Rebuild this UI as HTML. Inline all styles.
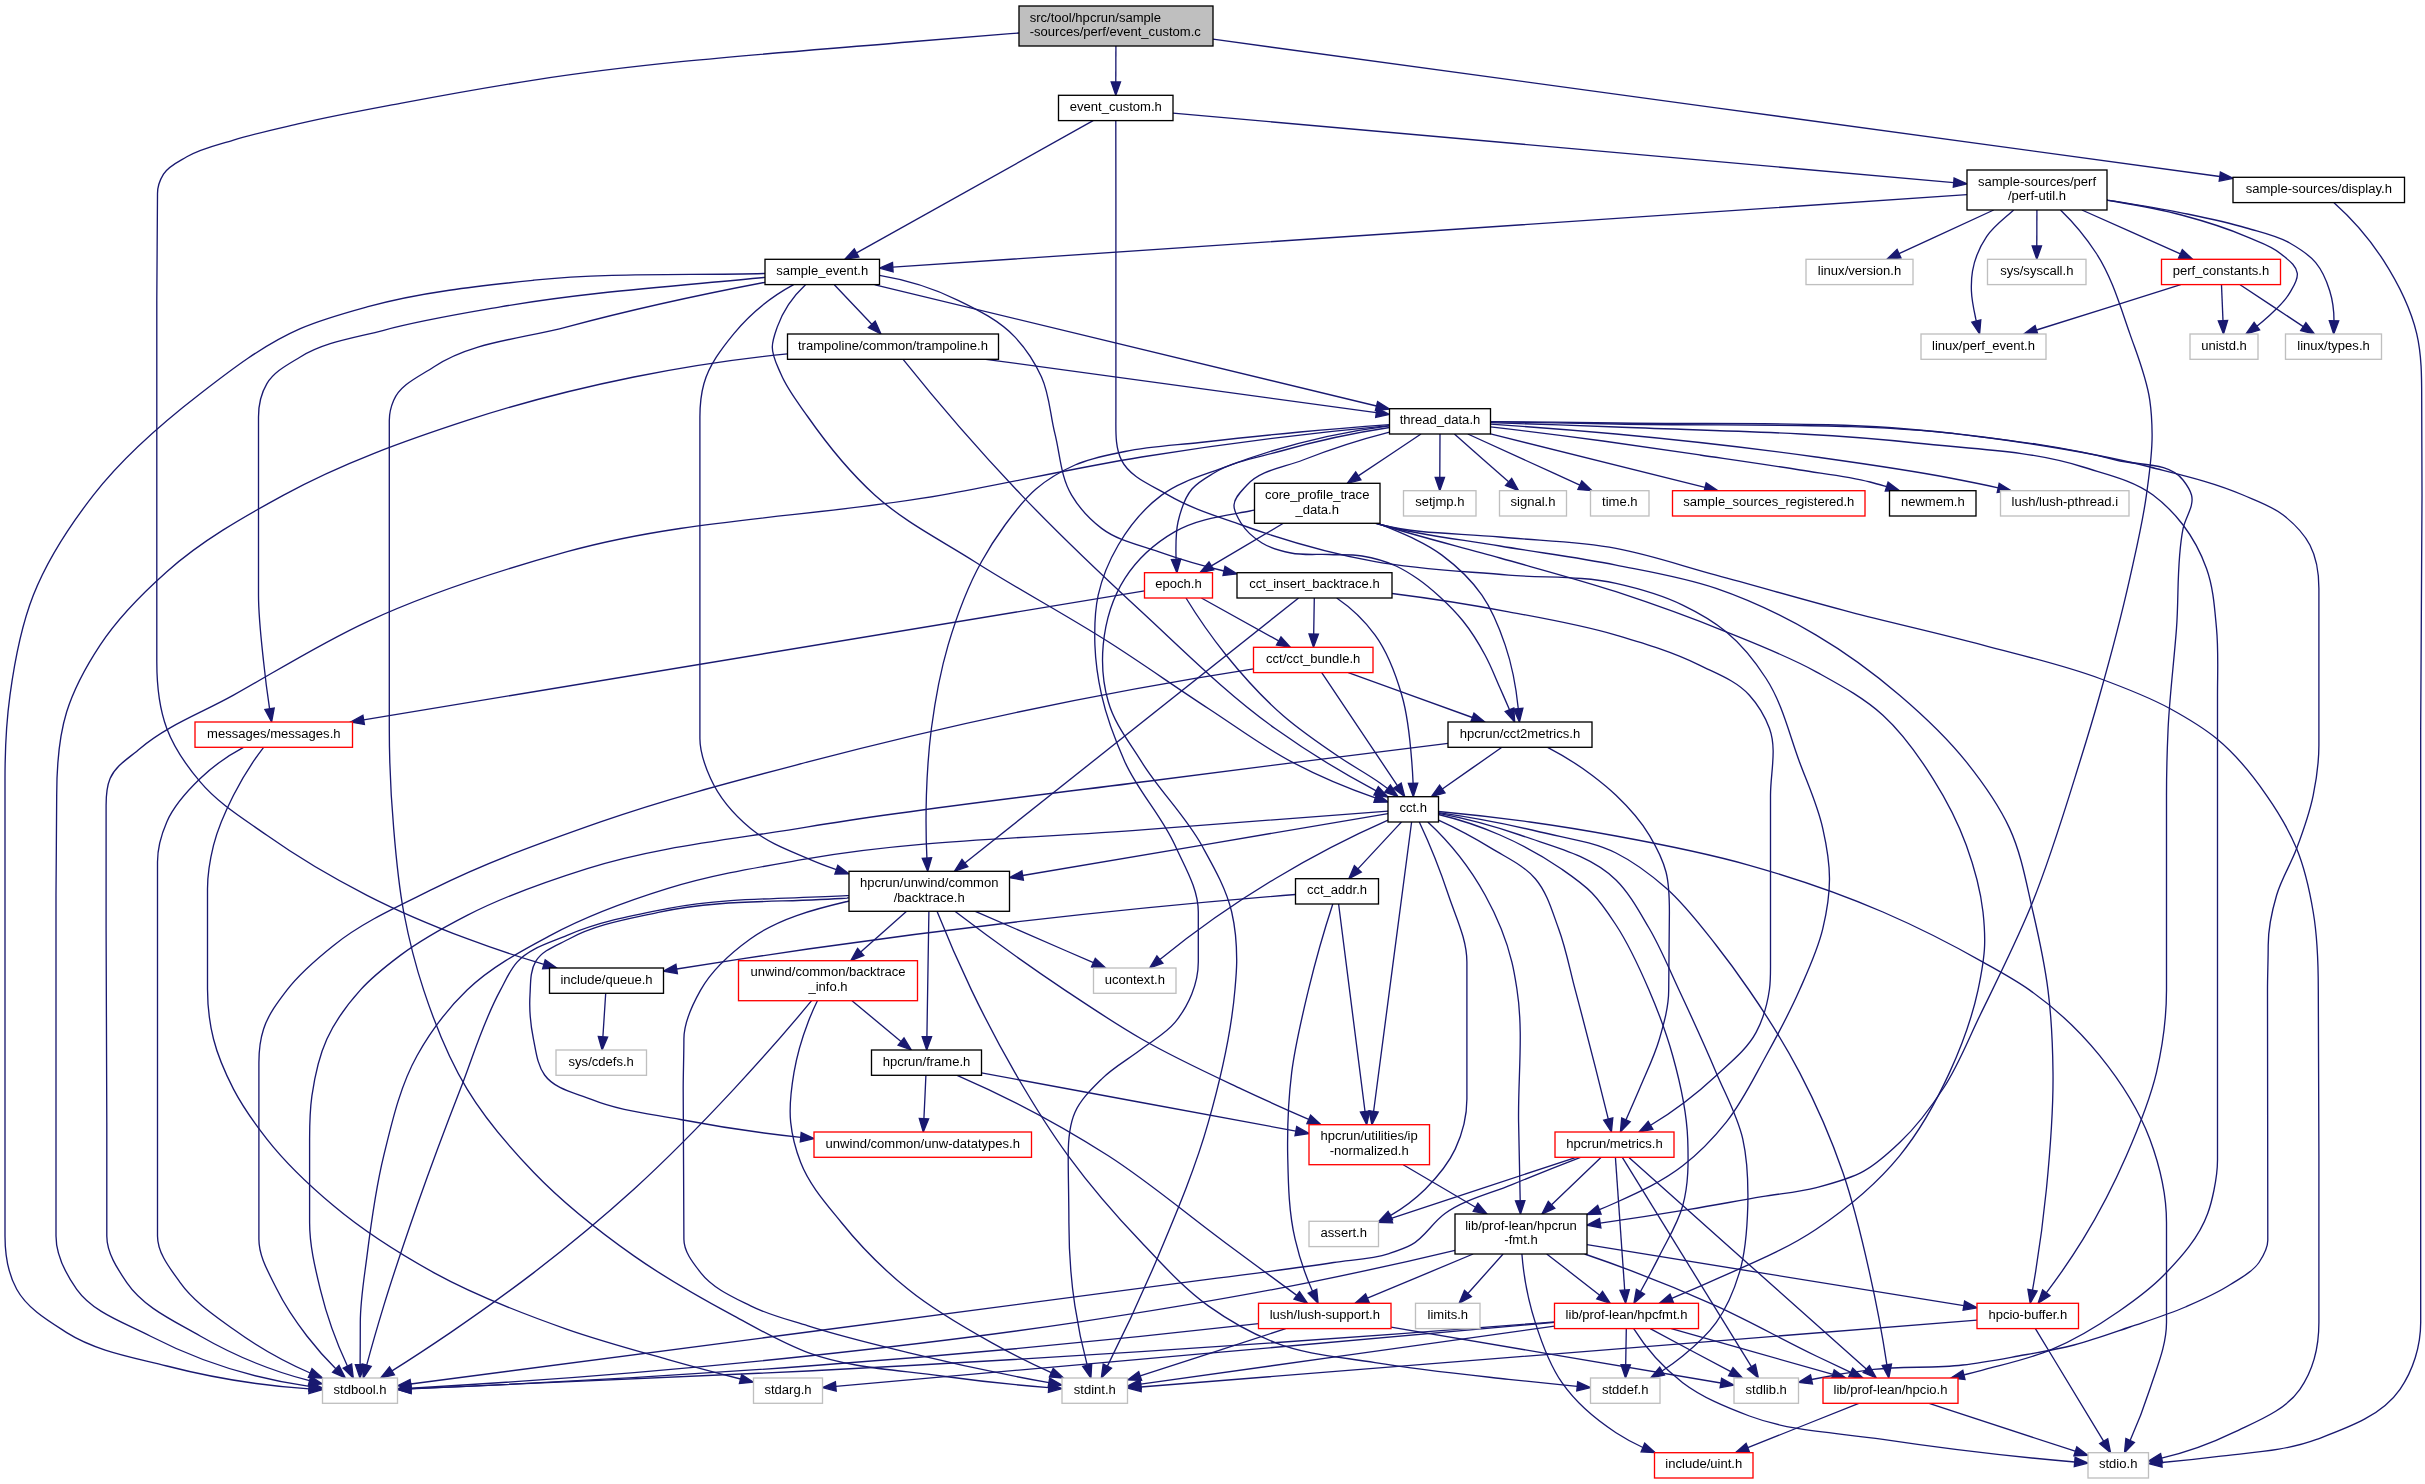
<!DOCTYPE html>
<html><head><meta charset="utf-8"><title>event_custom.c include dependency graph</title>
<style>html,body{margin:0;padding:0;background:#ffffff}svg{display:block}</style></head>
<body>
<svg width="2425" height="1484" viewBox="0 0 2425 1484">
<rect width="2425" height="1484" fill="#ffffff"/>
<g fill="none" stroke="#191970" stroke-width="1.33">
<path d="M1019,33C982,35.9 945,38.9 908.1,42C783.1,52.8 657.7,60.8 533.8,80.1C489.2,87 444.7,95 400.3,103.4C366.9,109.7 333.4,115.8 300.3,123.4C277.9,128.6 255.4,133.3 233.5,140.1C217.7,145 201.1,148.4 186.8,156.8C178.5,161.7 168.6,165.9 163.5,174.1C159.9,179.9 157.5,186.7 157.5,193.5C157.5,229.1 156.8,264.7 156.8,300.3C156.8,387.4 156.8,474.6 156.8,561.7C156.8,595.1 156.8,628.4 156.8,661.8C156.8,684.3 158.9,707.5 166.8,728.5C174.2,748.2 186.6,765.9 200.2,781.9C218.5,803.7 243.7,818.8 266.9,835.3C298.6,857.8 332.3,877.6 367,895.3C399.3,911.9 433,925.9 467.1,938.7C492.3,948.2 518,956.7 543.9,964.3"/>
<path d="M1213,39.2C1548.6,85 1884.2,130.7 2219.8,176.5"/>
<path d="M1115.9,46C1115.9,58 1115.9,70 1115.8,82"/>
<path d="M1093.1,120.7C1014.2,164.7 935.4,208.8 856.6,252.8"/>
<path d="M1173,113.1C1433.2,136.3 1693.5,159.4 1953.7,182.6"/>
<path d="M1115.8,120.7C1115.8,147.2 1115.9,173.7 1115.9,200.2C1115.9,272.4 1115.9,344.7 1115.9,417C1115.9,431.6 1115,447.4 1121.6,460.4C1130.4,477.7 1151.6,485.2 1168.3,495.1C1191.1,508.5 1216.8,516.1 1241.7,525C1285.1,540.6 1329.8,553.3 1375.1,561.7C1419.1,569.8 1464.1,571.2 1508.6,575.1C1544.4,578.2 1581,575.5 1616,583.4C1638.8,588.5 1661.7,594.9 1682.7,605.1C1698,612.5 1713,620.9 1726.1,631.8C1741.9,644.9 1755,661.3 1766.1,678.5C1782.4,703.6 1789.1,733.8 1799.5,761.9C1807.7,784 1817.8,805.6 1822.8,828.6C1826.5,845 1829.5,861.8 1829.5,878.7C1829.5,895.5 1826.7,912.3 1822.8,928.7C1817.8,950 1808.3,970 1799.5,990.1C1789.6,1012.6 1778,1034.2 1766.1,1055.7C1753.6,1078.4 1742.3,1102.2 1726.1,1122.4C1713.3,1138.4 1698.9,1153.3 1682.7,1165.8C1662.7,1181.4 1639.1,1192.1 1616,1202.5C1610.5,1205 1605,1207.4 1599.4,1209.6"/>
<path d="M2334,202.7C2352.9,219.5 2369.7,239 2383.3,260.2C2397.8,282.8 2410.4,307.5 2416.7,333.6C2421.8,355.3 2421.7,378 2421.7,400.3C2421.7,431.9 2422,463.5 2422,495.1C2422,572.9 2420.7,650.7 2420.7,728.5C2420.7,871 2420.7,1013.4 2420.7,1155.8C2420.7,1211.4 2420.7,1267 2420.7,1322.6C2420.7,1345.9 2413.2,1370.2 2400,1389.3C2381.6,1416 2346.9,1428 2316.6,1439.4C2284.9,1451.3 2250.1,1452.4 2216.5,1456.7C2198.3,1459.1 2180.1,1461 2161.8,1462.5"/>
<path d="M1967,194.7C1608.9,218.9 1250.9,243.1 892.8,267.2"/>
<path d="M1993.7,210C1962.1,224.6 1930.6,239.2 1899,253.7"/>
<path d="M2036.9,210C2036.9,222 2036.9,234 2036.8,246"/>
<path d="M2081.9,210C2114.7,224.6 2147.6,239.3 2180.4,253.9"/>
<path d="M2013.7,210C2013.3,210.3 2013,210.7 2012.6,211C2003.6,219.2 1993.4,226.5 1986.6,236.6C1979.6,246.9 1974.6,258.9 1972.5,271.2C1971.4,277.6 1971.2,284.2 1971.4,290.7C1971.7,300.2 1973.8,309.6 1975.8,318.9C1976,319.6 1976.1,320.4 1976.3,321.1"/>
<path d="M2060.5,210C2074.1,223.1 2086.2,237.8 2096.4,253.5C2112.1,277.8 2120.2,306.3 2129.8,333.6C2137.4,355.5 2146.5,377.3 2149.8,400.3C2151.4,411.4 2152,422.5 2152.1,433.7C2152.4,454.2 2149.2,474.7 2146.4,495.1C2142.6,523.1 2135.9,550.8 2129.8,578.4C2121,617.6 2110.7,656.5 2099.7,695.2C2093.6,716.9 2087.1,738.5 2080.4,760C2065.2,808.9 2050.6,858.2 2031.2,905.6C2016,942.7 1997.9,978.6 1980.3,1014.7C1968.4,1039.1 1958.7,1064.8 1943.9,1087.5C1931.2,1107 1917.1,1126 1900.2,1142.1C1889,1152.8 1877.4,1163.6 1863.8,1171.2C1849.2,1179.3 1832.7,1183.4 1816.5,1187.6C1798.7,1192.2 1780.2,1193.6 1762,1196.7C1737.7,1200.8 1713.5,1205.4 1689.2,1209.4C1659.6,1214.3 1629.9,1218.9 1600.2,1223.2"/>
<path d="M2107,200.1C2107.3,200.2 2107.7,200.2 2108,200.3C2132.6,204.5 2157.3,208.5 2181.4,215C2203.5,220.9 2225.5,227.5 2246.4,236.6C2258.2,241.8 2271.2,245.5 2281,253.9C2287.4,259.4 2296.4,265 2297.3,273.4C2298,280.3 2293.1,286.8 2289.7,292.9C2284.4,302.2 2275.9,309.4 2268,316.7C2264.4,320 2260.7,323.2 2256.8,326.2"/>
<path d="M2107,199.9C2107.3,200 2107.7,200 2108,200.1C2132.5,204 2157.1,207.8 2181.4,212.8C2203.2,217.3 2225.1,221.6 2246.4,228C2261,232.4 2276.4,235.5 2289.7,243C2299.1,248.4 2308.8,254.2 2315.7,262.6C2322.4,270.7 2326.6,280.7 2329.7,290.7C2332.7,300.3 2334,310.6 2334,320.7"/>
<path d="M2180.7,284.7C2132.6,299.8 2084.6,314.9 2036.5,330"/>
<path d="M2221.5,284.7C2222,296.7 2222.5,308.7 2223,320.7"/>
<path d="M2240.1,284.7C2261.2,298.7 2282.2,312.6 2303.3,326.6"/>
<path d="M765,273.5C764.7,273.5 764.3,273.5 764,273.5C687.3,275.5 610.1,272.3 533.8,280.2C477.8,286.1 421.3,292 367,306.9C344.4,313.1 321.7,319.3 300.3,328.6C263.8,344.5 231.6,369.3 200.2,393.7C161.3,423.7 123.5,456.3 93.4,495.1C69.6,525.8 47.6,558.9 33.4,595.1C20.8,627 14.6,661.2 10,695.2C6.2,722.8 5,750.7 5,778.6C5,817.5 5,856.4 5,895.3C5,971 5,1046.7 5,1122.4C5,1160.3 5,1198.1 5,1235.9C5,1254.1 7.9,1273.3 16.7,1289.3C27.3,1308.6 48.1,1320.8 66.7,1332.6C96.5,1351.4 132.8,1357.2 166.8,1366C213.3,1378 261.2,1385.7 309.2,1388.9"/>
<path d="M765,277.4C764.7,277.4 764.3,277.5 764,277.5C676,286.1 587.5,291.9 500.4,306.9C461.3,313.7 422,320 383.7,330.3C355.5,337.8 325,341.6 300.3,357C288.2,364.5 274.1,371.4 266.9,383.7C261.1,393.5 258.5,405.6 258.5,417C258.5,439.3 258.5,461.5 258.5,483.7C258.5,520.9 258.5,558 258.5,595.1C258.5,617.4 261.2,639.6 263.6,661.8C265.2,677.5 267.2,693.2 269.6,708.8"/>
<path d="M765,282.3C764.7,282.4 764.3,282.4 764,282.5C697.9,295.1 632.1,309.4 567.1,326.9C522.3,339 472.4,341.3 433.7,367C419.2,376.6 400.4,384.3 393.7,400.3C391,406.6 389.3,413.5 389.3,420.4C389.3,441.5 389.3,462.6 389.3,483.7C389.3,532 389.3,580.2 389.3,628.4C389.3,661.8 389.3,695.2 389.3,728.5C389.3,761.9 390.8,795.3 393.7,828.6C396,856.5 398.5,884.5 403.7,912C408.7,938.4 415.2,964.6 423.7,990.1C435,1024.3 448.4,1058.3 467.1,1089.1C485.5,1119.5 509.1,1146.8 533.8,1172.5C563.9,1203.8 598.4,1230.9 633.9,1255.9C665.7,1278.3 699.7,1297.5 733.9,1315.9C758.2,1329 782.1,1343.1 808,1352.6C850.4,1368.2 896.7,1369.8 941.4,1376C977.1,1380.9 1012.8,1384.8 1048.7,1387.6"/>
<path d="M793.6,284.7C770.8,297 750.2,313.9 733.9,333.6C721.6,348.6 709.2,364.9 703.9,383.7C700.9,394.4 699.9,405.8 699.9,417C699.9,439.3 699.9,461.5 699.9,483.7C699.9,532 699.9,580.2 699.9,628.4C699.9,665.1 699.9,701.8 699.9,738.5C699.9,752.3 704.9,766 710.6,778.6C719.4,798.1 734.2,815 750.6,828.6C767.3,842.4 788.2,850.1 808,858.6C817.3,862.7 826.8,866.3 836.4,869.7"/>
<path d="M805.5,284.7C793,296.3 782.9,311.2 777.3,326.9C775,333.4 772.4,340.1 772.3,347C772.2,356.3 777.1,365 780.7,373.6C787.2,389.4 798.2,403 808,417C827.6,445 849.4,472 874.7,495C904.4,521.9 941,540.2 974.8,561.7C1018.6,589.6 1064.5,613.9 1108.3,641.8C1142.1,663.3 1174.7,686.6 1208.3,708.5C1236,726.5 1262.5,746.5 1291.7,761.9C1318.5,776 1346.6,788 1375.3,797.8"/>
<path d="M834.3,284.7C846.8,297.9 859.3,311.1 871.8,324.3"/>
<path d="M879.5,275.4C906.8,279.9 933.6,288.3 958.1,300.3C978.4,310.1 999.4,320.6 1014.8,336.9C1025.9,348.6 1034.9,362.4 1041.5,377C1049.6,394.7 1050.1,414.9 1054.9,433.7C1060.1,454.3 1060.6,476.9 1071.6,495.1C1079.2,507.9 1089.7,519.3 1101.6,528.4C1117.9,540.7 1139,544.9 1158.3,551.7C1179.8,559.3 1201.7,565.8 1224,571"/>
<path d="M874.6,284.7C1041.9,325.1 1209.2,365.5 1376.5,406"/>
<path d="M787.5,353.8C735.9,359 684.6,366.7 633.9,377C577.6,388.4 521.7,402.5 467.1,420.4C404.3,440.9 341.5,463.4 283.6,495.1C242.7,517.4 201.5,540.7 166.8,571.7C142.1,593.7 118.2,617.5 100.1,645.1C86.4,665.9 74.1,688.1 66.7,711.8C58.4,738.6 56.7,767.2 56.7,795.3C56.7,828.6 56,862 56,895.3C56,971 56,1046.7 56,1122.4C56,1160.3 56,1198.1 56,1235.9C56,1255 65.7,1273.7 76.7,1289.3C93.6,1312.9 124.4,1322.6 150.1,1336C199.3,1361.4 253.9,1378.6 309.3,1386.3"/>
<path d="M903.1,359.3C940.6,406.2 980.1,451.6 1021.5,495.1C1060,535.5 1100.6,573.9 1141.6,611.8C1185,651.9 1226.9,694.2 1275.1,728.5C1307.3,751.5 1341.1,772.3 1376.2,790.8"/>
<path d="M985.8,359.3C1116,377.1 1246.1,394.9 1376.3,412.6"/>
<path d="M1389.5,425.6C1306.6,433.3 1223.8,443.8 1141.6,457C1074.6,467.9 1008.3,483.3 941.4,495.1C817.2,517 688.8,518.1 567.1,551.7C499,570.6 431.1,592.1 367,621.8C320.9,643.1 277.8,670.3 233.5,695.2C202.3,712.7 167.3,725.2 140.1,748.5C129.4,757.8 115.5,765.5 110.1,778.6C106.6,786.9 106.1,796.3 106.1,805.3C106.1,846.4 106.1,887.5 106.1,928.7C106.1,993.3 106.8,1057.9 106.8,1122.4C106.8,1160.3 106.8,1198.1 106.8,1235.9C106.8,1252.8 117.3,1268.6 126.8,1282.6C143.8,1307.6 174,1320.8 200.2,1336C234.1,1355.6 271.3,1370.8 309.5,1380.7"/>
<path d="M1389.5,424.6C1359.6,426.8 1329.8,429.2 1300,432C1266.6,435.1 1233.3,438.7 1200,442.5C1175,445.3 1149.7,446.4 1125,451.5C1108.1,455 1090.8,458 1075,465C1061,471.2 1047.6,479.1 1036,489C1023.9,499.2 1014.4,512.3 1005,525C996.4,536.7 988.5,549 981.5,561.7C966.9,587.9 956.6,616.4 948.1,645.1C940.1,672.3 935.1,700.4 931.4,728.5C928.6,750.6 927.1,773 926.4,795.3C925.8,816.2 925.9,837.1 926.9,858"/>
<path d="M1389.5,425.8C1333.3,432.9 1277.7,446.8 1225,467.1C1203.4,475.3 1180.1,481.3 1161.6,495.1C1144,508.3 1129.4,526 1118.3,545C1109.2,560.5 1102.1,577.5 1098.2,595.1C1094.6,611.4 1094.4,628.4 1094.9,645.1C1095.5,661.9 1097.9,678.7 1101.6,695.2C1106.7,718.2 1115.3,740.4 1124.9,761.9C1138.2,791.5 1161.7,815.7 1175,845.3C1184.6,866.8 1198.3,888.5 1198.3,912C1198.3,928.7 1198.3,945.4 1198.3,962.1C1198.3,983.6 1188.7,1005.7 1175,1022.4C1165.9,1033.4 1152.9,1040.3 1141.6,1049.1C1128.4,1059.3 1113.4,1067.3 1101.6,1079.1C1091.5,1089.1 1080.7,1099.4 1074.9,1112.4C1069,1125.8 1068.2,1141.2 1068.2,1155.8C1068.2,1178 1068.9,1200.3 1068.9,1222.5C1068.9,1250.4 1070.7,1278.4 1074.9,1305.9C1077.9,1325.9 1082,1345.7 1087.2,1365.2"/>
<path d="M1389.5,427.5C1352.9,433 1316.6,440.9 1281,451C1258.4,457.4 1234.1,460.9 1214,473C1206.2,477.7 1197.9,482.1 1192,489C1184.2,498.1 1180.7,510.4 1178,522C1175.5,533.1 1175.8,544.6 1176,556C1176,557.1 1176,558.2 1176.1,559.4"/>
<path d="M1389.5,432.1C1360.1,439.6 1331.1,448.9 1303,460C1284,467.5 1260.7,469.8 1247,485C1241.7,490.9 1234.4,497.1 1234,505C1233.7,511.4 1237.7,517.5 1241,523C1246,531.3 1253.8,537.9 1262,543C1270.7,548.4 1281,551 1291,553C1303.4,555.5 1316.3,554 1329,554.5C1340,555 1351.1,554.2 1362,556C1373.7,557.9 1385.3,561.1 1396,566C1403.7,569.6 1411,574.2 1418,579C1425.8,584.4 1433,590.6 1440,597C1448.2,604.5 1456,612.4 1463,621C1471.5,631.5 1478.6,643.1 1485,655C1490.8,665.6 1495.1,677 1500,688C1503.2,695.2 1506.4,702.5 1509.5,709.7"/>
<path d="M1421,434C1400.1,448 1379.2,461.9 1358.3,475.9"/>
<path d="M1440,434C1439.9,448.4 1439.9,462.9 1439.8,477.3"/>
<path d="M1454.4,434C1472.5,449.9 1490.5,465.9 1508.6,481.8"/>
<path d="M1467.8,434C1505.1,451 1542.5,468.1 1579.9,485.1"/>
<path d="M1490.5,433.9C1562,451.8 1633.5,469.6 1705,487.4"/>
<path d="M1490.5,426.9C1528,431.2 1565.5,435.9 1603,441C1635.4,445.4 1667.7,450.2 1700,455C1733.3,459.9 1766.7,464.6 1800,470C1823.4,473.8 1847.1,476.1 1870,482C1875.6,483.4 1881.1,485 1886.7,486.6"/>
<path d="M1490.5,424.2C1532.4,426.9 1574.2,430.2 1616,434C1682.8,440.2 1749.5,447.7 1816,457C1860.8,463.3 1905.6,469.5 1950,478C1966.1,481.1 1982.2,484.3 1998.2,487.8"/>
<path d="M1490.5,421.6C1532.3,421.8 1574.2,422.3 1616,423C1727,424.8 1838.7,420.1 1949,433C2005,439.6 2061.4,445.9 2116,460C2138.6,465.8 2168.7,461.6 2183,480C2186.5,484.5 2190,489.5 2191.5,495C2194.5,506.1 2185.4,517.1 2183.1,528.4C2176.5,561.1 2179,595.1 2176.5,628.4C2174,661.8 2169.7,695.1 2168.1,728.5C2167.1,750.7 2166.5,773 2166.5,795.3C2166.5,860.2 2166.5,925.1 2166.5,990.1C2166.5,1017.7 2162.7,1045.5 2156.5,1072.4C2149.7,1101.2 2138.2,1128.7 2126.4,1155.8C2113.9,1184.5 2099.5,1212.5 2083.1,1239.2C2071.7,1257.7 2059.4,1275.6 2046.3,1292.8"/>
<path d="M1490.5,422.7C1532.3,423.9 1574.2,425.3 1616,427C1716.1,431 1816.5,431.9 1916,443C1971.9,449.2 2029.4,450 2083,467C2107,474.6 2132.8,480 2153,495C2164.4,503.5 2174.5,513.7 2183.1,525C2193.1,538.1 2200.9,553 2206.5,568.4C2213.4,587.5 2214.6,608.2 2216.5,628.4C2218.6,650.6 2217.5,672.9 2217.5,695.2C2217.5,793.5 2217.5,891.8 2217.5,990.1C2217.5,1046.7 2217.5,1103.4 2217.5,1160C2217.5,1170.1 2216,1180.1 2214,1190C2212.4,1198 2210.5,1205.9 2207.7,1213.5C2199,1237.6 2181,1257.8 2163,1276C2149.7,1289.5 2134.2,1300.7 2118.6,1311.5C2097.6,1326.1 2075.4,1339.5 2051.8,1349.4C2030.4,1358.4 2007.5,1363.4 1985,1369.4C1978,1371.3 1970.9,1373.1 1963.9,1374.9"/>
<path d="M1490.5,421.9C1532.3,422.4 1574.2,423.1 1616,424C1738.4,426.7 1861.7,420.8 1983,437C2039.1,444.5 2095.2,453 2150,467C2181.4,475 2213.3,482.1 2243,495C2256.7,500.9 2271.4,505.8 2283.2,515C2293.8,523.3 2303.7,533.2 2309.9,545C2316.7,558.1 2318.9,573.6 2318.9,588.4C2318.9,640.7 2318.9,692.9 2318.9,745.2C2318.9,762 2316.6,778.8 2313.2,795.3C2309.5,813.5 2303.1,831.2 2296.6,848.6C2290.7,864.5 2281.3,879.1 2276.6,895.3C2271.8,911.6 2268.2,928.5 2268.2,945.4C2268.2,960.3 2267.5,975.2 2267.5,990.1C2267.5,1073.5 2267.8,1156.9 2267.8,1240.3C2267.8,1248.3 2263.4,1255.9 2259,1262.5C2252.2,1272.6 2240.2,1278.2 2230,1284.8C2216.1,1293.8 2200.6,1300.4 2185.4,1307C2167.3,1314.8 2148.4,1320.6 2129.8,1327C2111.3,1333.3 2092.9,1340.1 2074,1345C2055.7,1349.7 2037,1352.7 2018.4,1356C1999.9,1359.3 1981.4,1362.8 1962.7,1365C1933.2,1368.5 1903.1,1366 1873.6,1369.4C1852.8,1371.8 1832,1375.2 1811.5,1379.5"/>
<path d="M1254.5,510.2C1253,510.4 1251.5,510.7 1250,511C1224.5,515.8 1197.4,518.7 1175,531.7C1155.2,543.1 1137.2,559.2 1124.9,578.4C1112.3,598.1 1105.4,621.8 1103.2,645.1C1101.5,664 1103,683.6 1108.3,701.8C1114.5,723.9 1129.6,742.4 1141.6,761.9C1159.6,791 1185,815.3 1201.7,845.3C1213.5,866.6 1226.1,888.3 1231.7,912C1235.5,928.3 1236.8,945.3 1236.7,962.1C1236.6,971.1 1235.8,980 1235,989C1231.2,1034.2 1220.7,1078.8 1208.3,1122.4C1195.4,1168.2 1176.7,1212.1 1158.3,1255.9C1142.6,1293.2 1125.6,1330 1107.4,1366.1"/>
<path d="M1283.4,523.3C1259.4,537.5 1235.4,551.7 1211.4,565.9"/>
<path d="M1377.9,523.3C1379.3,523.9 1380.6,524.4 1382,525C1402.6,533.6 1423.9,541.7 1441.9,555.1C1457,566.3 1471.1,579.6 1481.9,595.1C1492.4,610.2 1499.3,627.7 1505.2,645.1C1512.2,665.6 1516.1,687.2 1518.3,708.7"/>
<path d="M1376.7,523.3C1378.5,523.9 1380.2,524.4 1382,525C1421,537.3 1460.7,546.8 1500,558C1538.7,569 1577.7,579.2 1616,591.7C1653.1,603.9 1689.9,617.1 1726.1,631.8C1756.5,644.2 1787.4,655.9 1816.2,671.8C1839.4,684.7 1863.3,697.3 1882.9,715.2C1902.8,733.3 1918.6,755.8 1932.9,778.6C1946.2,799.6 1957.8,821.9 1966.3,845.3C1974.1,866.8 1980.4,889.2 1983,912C1984.2,923.1 1985,934.2 1984.6,945.4C1984.1,960.4 1981.1,975.3 1978,990.1C1971.9,1018.5 1961.7,1046 1949.6,1072.4C1936.1,1101.9 1920.1,1130.7 1899.6,1155.8C1876.2,1184.5 1846.9,1208.5 1816.2,1229.2C1785.2,1250 1750.1,1263.9 1716.1,1279.2C1701.4,1285.9 1686.6,1292.2 1671.8,1298.3"/>
<path d="M1376.1,523.3C1378,523.9 1380,524.5 1382,525C1420.5,535.6 1460.6,539.3 1500,546C1538.6,552.6 1577.6,557.3 1616,565.1C1649.6,571.8 1683.7,577.3 1716.1,588.4C1750.9,600.3 1784.5,616.4 1816.2,635.1C1845.7,652.5 1873.5,672.9 1899.6,695.2C1923.5,715.6 1946.7,737.3 1966.3,761.9C1982.8,782.6 1998.6,804.5 2009.7,828.6C2021.7,854.8 2026.4,883.9 2033,912C2039,937.8 2044.7,963.8 2048,990.1C2051.5,1017.4 2052.7,1044.9 2053,1072.4C2053.5,1111.4 2050.2,1150.4 2046.4,1189.2C2043,1223 2038.4,1256.7 2032.5,1290.2"/>
<path d="M1375.5,523.3C1377.6,523.9 1379.8,524.5 1382,525C1420.4,534.5 1460.7,533.1 1500,537C1538.7,540.9 1577.8,541.3 1616,548.4C1649.9,554.7 1682.8,566.1 1716.1,575.1C1760.6,587.1 1804.9,600.1 1849.5,611.8C1893.9,623.4 1938.7,633.2 1983,645.1C2022.1,655.6 2061.8,664.4 2099.7,678.5C2123.5,687.3 2147.5,696.3 2169.8,708.5C2186,717.4 2202.2,726.8 2216.5,738.5C2236,754.6 2252.2,774.5 2266.5,795.3C2278.2,812 2288.8,829.7 2296.6,848.6C2304.9,868.8 2309.6,890.5 2313.2,912C2317.6,937.7 2318.3,964 2318.3,990.1C2318.3,1045.3 2318.9,1100.6 2318.9,1155.8C2318.9,1211.4 2318.9,1267 2318.9,1322.6C2318.9,1345.7 2313.2,1370.4 2299.9,1389.3C2284.7,1411.1 2257,1421 2233.2,1432.7C2210.5,1443.8 2186.3,1452.4 2161.5,1458.2"/>
<path d="M1144.5,590.9C884.2,633.9 623.9,676.9 363.6,719.8"/>
<path d="M1186,598C1198.1,617.8 1211.5,636.9 1226,655C1243.4,676.6 1262.1,697.3 1283,715.5C1300.8,731 1320.4,744.3 1340,757.5C1353.1,766.4 1367.1,773.8 1380,783C1382.5,784.8 1385,786.6 1387.5,788.5"/>
<path d="M1201.4,598C1227.1,612.3 1252.9,626.6 1278.7,640.9"/>
<path d="M1298.6,598C1187.3,686.3 1076.1,774.7 964.9,863"/>
<path d="M1314.3,598C1314.1,610 1313.9,622 1313.7,634"/>
<path d="M1336.7,598C1351.5,608.1 1364.7,620.8 1375.1,635.1C1388,652.8 1395.7,674.1 1401.8,695.2C1408.2,716.7 1410.1,739.5 1411.8,761.9C1412.4,769 1412.8,776.2 1413.1,783.3"/>
<path d="M1392,593.5C1431,598.4 1469.9,604.5 1508.6,611.8C1544.6,618.5 1580.9,624.7 1616,635.1C1644.3,643.5 1673,651.9 1699.4,665.1C1716.8,673.8 1736.4,680.7 1749.4,695.2C1758.1,704.8 1765,716.3 1769.5,728.5C1777.1,749.4 1770.5,773 1770.5,795.3C1770.5,850.9 1770.5,906.5 1770.5,962.1C1770.5,971 1770.7,980.1 1769.5,989C1767.4,1004 1763.3,1019 1756.1,1032.4C1746.8,1049.7 1730.5,1062.3 1716.1,1075.7C1696.1,1094.4 1674,1111.1 1650.6,1125.3"/>
<path d="M1253.5,668.9C1103.6,692.2 954.7,723.3 808,761.9C738.4,780.2 668.5,798.2 600.5,821.9C544,841.7 487.3,861.9 433.7,888.7C399.4,905.8 363.6,921.4 333.6,945.4C316.8,958.8 300,972.9 286.9,990.1C277.7,1002.1 268.2,1014.6 263.6,1029C260.1,1039.7 258.9,1051.2 258.9,1062.4C258.9,1121.3 258.9,1180.3 258.9,1239.2C258.9,1256.9 269.1,1273.3 276.9,1289.3C285,1305.9 295.6,1321.3 306.9,1336C315.8,1347.5 325.4,1358.5 335.8,1368.8"/>
<path d="M1321.7,672.7C1346.9,710.3 1372.1,747.9 1397.4,785.6"/>
<path d="M1348.3,672.7C1389.7,687.6 1431,702.5 1472.4,717.5"/>
<path d="M243.5,747.3C227.6,755.7 212.9,766.3 200.2,778.6C187.1,791.2 174.1,805.2 166.8,821.9C161.3,834.5 157.5,848.3 157.5,862C157.5,895.3 157.5,928.7 157.5,962.1C157.5,1015.5 157.5,1069 157.5,1122.4C157.5,1160.3 157.5,1198.1 157.5,1235.9C157.5,1253.2 170.1,1268.5 180.2,1282.6C193.9,1301.8 214.4,1315.4 233.5,1329.3C257.2,1346.5 283.1,1361.3 310.2,1373"/>
<path d="M263.6,747.3C252.1,762.3 242,778.4 233.5,795.3C225.4,811.3 217.9,827.9 213.5,845.3C210,859.4 207.5,874.1 207.5,888.7C207.5,913.1 207.5,937.6 207.5,962.1C207.5,971 207.5,980 207.5,989C207.5,1005.8 209.4,1022.7 213.5,1039C217.9,1056.5 225.3,1073.1 233.5,1089.1C242.8,1106.9 254.5,1123.3 266.9,1139.1C286.3,1163.9 309.5,1185.6 333.6,1205.8C364.3,1231.6 398.6,1253.2 433.7,1272.6C476,1295.9 521.5,1313.3 567.1,1329.3C600,1340.8 633.7,1349.9 667.2,1359.3C691.6,1366.2 716,1372.7 740.6,1379"/>
<path d="M1448,743.4C1348.6,755.6 1249.3,768.1 1150,781C1035.9,795.8 921.4,808 808,826.9C734.1,839.3 658.6,846.2 587.2,868.6C546.2,881.5 505.2,895.6 467.1,915.4C444,927.3 421.1,939.8 400.3,955.4C386.2,966 372.1,977 360.3,990.1C347.1,1004.7 335.1,1021.1 326.9,1039C318.8,1056.8 314.7,1076.4 311.9,1095.8C309.9,1110.1 309.6,1124.6 309.6,1139.1C309.6,1166.9 309.6,1194.7 309.6,1222.5C309.6,1245.1 314.9,1267.4 320.3,1289.3C326.7,1315.6 335.9,1341.4 347.4,1366"/>
<path d="M1501.9,747.3C1482,761.2 1462.2,775.1 1442.3,789"/>
<path d="M1547.6,747.3C1563.2,755.4 1578.1,764.8 1592,775.2C1600.3,781.5 1608.5,788 1616,795.3C1628.6,807.3 1640.4,820.4 1649.4,835.3C1656.3,846.8 1662.7,859 1666,872C1669.4,884.9 1669.4,898.6 1669.4,912C1669.4,938 1668.7,964.1 1668.7,990.1C1668.7,1006.7 1664,1023.1 1659.4,1039C1654.4,1056.3 1646.3,1072.5 1639.4,1089.1C1635,1099.4 1630.5,1109.7 1625.9,1119.9"/>
<path d="M1388,811.1C1307,816.9 1226,823.1 1145,829.6C1032.6,838.6 919.1,839.2 808,858.6C760.7,866.9 713,874.4 667.2,888.7C627.2,901.1 587.4,915.6 550.5,935.4C521.2,951.1 491,967 467.1,990.1C447.2,1009.2 430.4,1031.7 417,1055.7C399.9,1086.5 392.1,1121.7 383.7,1155.8C375.6,1188.6 371.2,1222.3 367,1255.9C364.2,1278.1 360.3,1300.3 360.3,1322.6C360.3,1336.6 360.2,1350.7 360.1,1364.7"/>
<path d="M1388,813.6C1266.2,834.2 1144.4,854.9 1022.6,875.5"/>
<path d="M1388,820.1C1349.2,837.2 1311.4,856.8 1275.1,878.7C1234.9,902.8 1196.3,929.9 1159.9,959.5"/>
<path d="M1401.5,822C1386.9,837.6 1372.4,853.3 1357.9,868.9"/>
<path d="M1411.6,822C1398.9,918.5 1386.3,1015 1373.6,1111.5"/>
<path d="M1419.3,822C1430.5,845.8 1440.3,870.4 1448.5,895.3C1455.8,917.2 1466.9,939 1466.9,962.1C1466.9,971 1466.9,980 1466.9,989C1466.9,1025.7 1466.9,1062.4 1466.9,1099.1C1466.9,1116.2 1462.5,1133.6 1455.2,1149.1C1448.1,1164.2 1437,1177.4 1425.2,1189.2C1414.9,1199.3 1403.1,1208.2 1390.3,1215.6"/>
<path d="M1427.8,822C1450.7,843.2 1470.3,868.2 1485.2,895.3C1496.8,916.3 1506.3,938.8 1511.9,962.1C1514.1,970.9 1515.5,980 1516.9,989C1523.8,1033 1517.8,1078 1518.6,1122.4C1519,1148.5 1519.6,1174.6 1520.2,1200.7"/>
<path d="M1438.5,820.1C1456.9,828.5 1474.7,838 1491.9,848.6C1506.9,857.9 1523.8,865.3 1535.3,878.7C1547.2,892.6 1552.2,911.4 1558.6,928.7C1566,948.6 1569.8,969.6 1575.3,990.1C1586.7,1033 1597.7,1076 1608.3,1119.1"/>
<path d="M1438.5,814.5C1459.6,819.5 1480.2,826.4 1500,835C1520.9,844.1 1541.2,855 1560,868C1571.1,875.7 1582.5,883.3 1592,893C1601.3,902.5 1608.7,913.9 1616,925C1629.4,945.3 1639.4,967.7 1649,990C1658.2,1011.4 1666.5,1033.3 1672.7,1055.7C1680.3,1082.9 1686.7,1110.9 1687.7,1139.1C1688.5,1161.4 1688.7,1184.4 1682.7,1205.8C1677.8,1223.6 1667.6,1239.4 1659.4,1255.9C1653.3,1268 1647,1279.9 1640.4,1291.7"/>
<path d="M1438.5,813.3C1466.2,818.4 1493.5,825.7 1520,835C1553.3,846.8 1590.9,855.1 1616,880C1629.8,893.7 1639.1,911.3 1649,928C1660.7,947.8 1669.2,969.2 1679,990C1691.8,1017.3 1704.4,1044.7 1716.1,1072.4C1725.4,1094.5 1737.5,1115.8 1742.8,1139.1C1747.7,1160.9 1748.3,1183.6 1747.8,1205.8C1747.2,1228.3 1746,1251.1 1739.4,1272.6C1734.1,1290.2 1726.9,1307.7 1716.1,1322.6C1706.9,1335.4 1694.9,1346 1682.7,1356C1676.1,1361.4 1669.2,1366.4 1662.1,1371"/>
<path d="M1438.5,812.7C1472.6,817.5 1506.5,824 1540,832C1565.6,838.1 1592.5,841.3 1616,853C1634.2,862.1 1650.7,874.6 1666,888C1685,904.6 1700.3,925.2 1716,945C1727.5,959.6 1738.5,974.7 1749,990C1767.3,1016.5 1784.5,1043.9 1799.5,1072.4C1816.4,1104.6 1831,1138.1 1842.9,1172.5C1854.1,1205.1 1862,1238.9 1869.5,1272.6C1876.4,1303.1 1882.2,1333.9 1886.9,1364.8"/>
<path d="M1438.5,811.5C1469.1,814.3 1499.6,817.8 1530,822C1558.8,826 1587.4,830.7 1616,836C1660.8,844.2 1705.6,852.9 1749.4,865.3C1794.8,878.1 1839.6,893.3 1882.9,912C1917.1,926.8 1950.5,943.7 1983,962.1C1998.8,971 2014.9,979.6 2029.7,990.1C2055.8,1008.6 2079.6,1030.8 2099.7,1055.7C2120.1,1080.9 2138.4,1108.8 2149.8,1139.1C2159.7,1165.7 2166.5,1194.2 2166.5,1222.5C2166.5,1255.9 2166.5,1289.3 2166.5,1322.6C2166.5,1345.5 2156.8,1367.5 2149.8,1389.3C2144.2,1406.7 2137.6,1423.9 2130.1,1440.6"/>
<path d="M849,895.6C848.3,895.6 847.7,895.7 847,895.7C787,899.2 726.2,897.2 667.2,908.7C633.3,915.3 598.8,921.6 567.1,935.4C549.8,942.9 529.8,948 517.1,962.1C509.8,970.1 505.6,980.5 500.4,990.1C483.3,1021.3 473.3,1055.9 460.4,1089.1C445.3,1127.8 430.8,1166.7 417,1205.8C405.4,1239 393.9,1272.3 383.7,1305.9C377.7,1325.6 372,1345.3 366.7,1365.1"/>
<path d="M849,897.8C848.3,897.9 847.7,897.9 847,898C784.1,903 719.8,898.7 658.2,912.4C627.9,919.2 596.2,924.1 569,939C557.3,945.4 542.6,949.9 535.7,961.4C529.9,971.1 530.7,983.5 530,994.8C529.1,1009.7 530.5,1024.7 533.5,1039.3C536,1051.5 537.3,1064.9 544.6,1075C554.9,1089.3 575.1,1092.8 591.4,1099.4C619.6,1110.9 650.5,1113.8 680.4,1119.5C720.2,1127.1 760.4,1133.1 800.7,1137.3"/>
<path d="M849,901C848.3,901.2 847.7,901.3 847,901.5C813.5,909.4 778.6,918.6 750.6,938.7C731.2,952.6 712.3,969.3 700.6,990.1C692.1,1005.1 683.9,1021.8 683.9,1039C683.9,1055.7 683.2,1072.4 683.2,1089.1C683.2,1139.1 683.9,1189.2 683.9,1239.2C683.9,1251.6 693,1262.8 700.6,1272.6C712.9,1288.4 732.7,1297 750.6,1305.9C768.8,1315 788.7,1319.8 808,1325.9C840.9,1336.4 874.5,1344.4 908.1,1352.6C954.7,1364 1001.7,1374.1 1048.9,1382.7"/>
<path d="M906.6,911.3C891.3,924.8 876,938.3 860.7,951.9"/>
<path d="M928.9,911.3C928.3,953.1 927.6,994.9 926.9,1036.7"/>
<path d="M937,911.3C947.6,938 959.1,964.2 971.5,990.1C984.9,1018 999.3,1045.6 1014.8,1072.4C1031.4,1101 1048.7,1129.2 1068.2,1155.8C1090.6,1186.4 1115.5,1215.2 1141.6,1242.5C1162.8,1264.7 1183.4,1288.1 1208.3,1305.9C1229,1320.7 1251.4,1333.4 1275.1,1342.6C1306.7,1355 1341.6,1357 1375.1,1362.6C1419.4,1370 1464,1374.4 1508.6,1379.3C1531.4,1381.8 1554.3,1384.2 1577.2,1386.4"/>
<path d="M954.9,911.3C990.7,938.7 1027.4,965 1064.9,990.1C1090.1,1006.9 1115.3,1023.9 1141.6,1039C1174,1057.6 1208,1073.2 1241.7,1089.1C1263.9,1099.5 1286.2,1109.6 1308.7,1119.4"/>
<path d="M975.3,911.3C1014.6,928.4 1054,945.6 1093.4,962.7"/>
<path d="M1295.5,894.5C1132.5,907.6 969.8,925.7 808,949C764.2,955.3 720.4,962 676.7,969"/>
<path d="M1332.8,904C1323.5,932.4 1315.4,961.1 1308.4,990.1C1301.9,1017.3 1295.2,1044.6 1291.7,1072.4C1288.3,1100 1287.2,1128 1287.7,1155.8C1288.3,1183.7 1288.7,1212 1295.1,1239.2C1299.2,1257 1305.1,1274.5 1312.5,1291.3"/>
<path d="M1338.6,904C1347.4,973.1 1356.2,1042.3 1365,1111.4"/>
<path d="M605.7,993.3C604.8,1007.8 603.8,1022.2 602.9,1036.7"/>
<path d="M811.6,1000.7C786.6,1030.9 760.7,1060.4 733.9,1089.1C701.8,1123.6 668.8,1157.4 633.9,1189.2C601.7,1218.4 568.2,1246.1 533.8,1272.6C506.6,1293.4 478.7,1313.3 450.4,1332.6C431.1,1345.7 411.7,1358.5 392,1370.9"/>
<path d="M817.4,1000.7C813.9,1007.8 810.8,1015 808,1022.4C801.8,1038.5 796.9,1055.3 794,1072.4C791.2,1088.9 788.9,1105.8 790.7,1122.4C792.1,1136.1 795.7,1149.7 800.7,1162.5C809.4,1185 826.2,1203.7 841.4,1222.5C861.1,1247 883.6,1269.5 908.1,1289.3C933.7,1310 962.6,1326.6 991.5,1342.6C1011,1353.5 1030.9,1363.5 1051.3,1372.6"/>
<path d="M852,1000.7C868.4,1014.3 884.7,1027.9 901,1041.5"/>
<path d="M925.9,1075.3C925.3,1089.8 924.6,1104.2 923.9,1118.7"/>
<path d="M957.1,1075.3C1009.5,1098 1060.2,1125 1108.3,1155.8C1149.1,1182 1186,1213.7 1225,1242.5C1248.9,1260.2 1272.8,1277.8 1296.8,1295.4"/>
<path d="M981.5,1072.9C1086.3,1092.3 1191.1,1111.7 1295.9,1131.1"/>
<path d="M1403.2,1164.7C1427.3,1178.9 1451.4,1193 1475.5,1207.2"/>
<path d="M1576.1,1157.3C1514.5,1177.7 1452.8,1198 1391.2,1218.4"/>
<path d="M1580.5,1157.3C1557.6,1166.1 1534.7,1175.2 1512,1184.6C1489.5,1193.9 1464.8,1199.4 1445,1213.5C1432.6,1222.3 1424.9,1237.3 1411.6,1244.7C1404.5,1248.6 1396.7,1251.1 1389,1253.6C1371.2,1259.3 1352.1,1259.7 1333.6,1262.5C1289.2,1269.3 1244.5,1274.5 1200,1280.4C1069.4,1297.8 938.7,1314.8 808,1332C675.6,1349.4 543.2,1366.7 410.7,1384"/>
<path d="M1601.2,1157.3C1584.7,1173.2 1568.1,1189 1551.6,1204.8"/>
<path d="M1615.4,1157.3C1618.5,1201.6 1621.6,1245.8 1624.7,1290"/>
<path d="M1622.3,1157.3C1665.4,1227.1 1708.4,1296.9 1751.4,1366.7"/>
<path d="M1628.7,1157.3C1707.9,1227.9 1787.1,1298.5 1866.3,1369.1"/>
<path d="M1455,1250.3C1406.3,1262 1357.5,1272.7 1308.4,1282.6C1231,1298.1 1153,1310.9 1074.9,1322.6C986.2,1335.9 897.1,1346.4 808,1356C675.9,1370.1 543.4,1380.8 410.8,1388.1"/>
<path d="M1473.1,1254C1437.9,1268.7 1402.6,1283.5 1367.4,1298.2"/>
<path d="M1503.1,1254C1491.4,1267.1 1479.7,1280.3 1467.9,1293.4"/>
<path d="M1521.9,1254C1523.7,1277.3 1528.2,1300.5 1535.3,1322.6C1541.9,1343.5 1549.4,1364.7 1562,1382.7C1576,1402.8 1595.4,1419.3 1616,1432.7C1624.5,1438.2 1633.5,1443.2 1642.9,1447.5"/>
<path d="M1546.7,1254C1564.4,1267.7 1582,1281.4 1599.7,1295.2"/>
<path d="M1584.6,1254C1629.3,1269.2 1673.2,1286.5 1716.1,1305.9C1750.1,1321.3 1782.6,1339.8 1816.2,1356C1827.7,1361.5 1839.2,1367 1850.8,1372.4"/>
<path d="M1587,1244.7C1712.6,1265 1838.2,1285.3 1963.8,1305.7"/>
<path d="M1258.5,1323.7C1108.6,1340.7 958.4,1354.8 808,1366C675.8,1375.8 543.3,1383.4 410.8,1388.7"/>
<path d="M1285.7,1328.7C1237.2,1344.4 1188.7,1360.2 1140.2,1375.9"/>
<path d="M1391,1327.2C1501,1345.8 1610.9,1364.4 1720.9,1383"/>
<path d="M1554.5,1321.8C1305.9,1341.6 1057,1358 808,1371C675.7,1377.9 543.3,1383.8 410.8,1388.8"/>
<path d="M1554.5,1322.4C1314.9,1343.7 1075.4,1365.1 835.8,1386.4"/>
<path d="M1554.5,1326.1C1416.6,1345.5 1278.6,1364.8 1140.7,1384.2"/>
<path d="M1626.3,1328.7C1626.1,1340.7 1625.9,1352.7 1625.7,1364.7"/>
<path d="M1633.7,1328.7C1646.6,1349.4 1663.5,1368 1682.7,1382.7C1702.5,1397.7 1726.2,1407.2 1749.4,1416C1791.7,1432 1838.2,1432.6 1882.9,1439.4C1946.5,1449 2010.6,1456.5 2074.7,1462"/>
<path d="M1650.2,1328.7C1677.1,1343 1703.9,1357.4 1730.8,1371.7"/>
<path d="M1671.3,1328.7C1725.2,1343.9 1779,1359.1 1832.9,1374.4"/>
<path d="M1977,1320.1C1698.3,1342.4 1419.5,1364.7 1140.8,1387"/>
<path d="M2035.4,1328.7C2058.2,1366.2 2080.9,1403.7 2103.7,1441.3"/>
<path d="M1858.8,1403.3C1821.8,1418.1 1784.8,1432.9 1747.8,1447.7"/>
<path d="M1929.1,1403.3C1977.9,1419.3 2026.6,1435.3 2075.3,1451.3"/>
</g>
<g fill="#191970" stroke="#191970" stroke-width="1.33">
<polygon points="556.7,968 542.6,968.8 545.2,959.8"/>
<polygon points="2233,178.3 2219.2,181.1 2220.4,171.9"/>
<polygon points="1115.8,95.3 1111.2,82 1120.5,82"/>
<polygon points="844.9,259.3 854.3,248.8 858.8,256.9"/>
<polygon points="1967,183.8 1953.3,187.2 1954.1,177.9"/>
<polygon points="1587,1214.5 1597.7,1205.3 1601.1,1214"/>
<polygon points="2148.5,1463.6 2161.4,1457.9 2162.1,1467.2"/>
<polygon points="879.5,268.1 892.5,262.6 893.1,271.9"/>
<polygon points="1886.9,259.3 1897.1,249.5 1901,258"/>
<polygon points="2036.8,259.3 2032.2,246 2041.5,246"/>
<polygon points="2192.6,259.3 2178.5,258.2 2182.3,249.6"/>
<polygon points="1979.6,334 1971.8,322.2 1980.8,319.9"/>
<polygon points="1587,1225.1 1599.5,1218.6 1600.9,1227.9"/>
<polygon points="2246,334 2254.1,322.4 2259.6,330"/>
<polygon points="2333.7,334 2329.3,320.6 2338.7,320.8"/>
<polygon points="2023.8,334 2035.1,325.6 2037.9,334.5"/>
<polygon points="2223.5,334 2218.3,320.9 2227.6,320.5"/>
<polygon points="2314.4,334 2300.7,330.5 2305.9,322.7"/>
<polygon points="322.5,1389.7 308.9,1393.6 309.5,1384.3"/>
<polygon points="271.6,722 264.9,709.6 274.2,708.1"/>
<polygon points="1062,1388.6 1048.4,1392.3 1049.1,1382.9"/>
<polygon points="849,873.9 834.9,874.1 837.8,865.3"/>
<polygon points="1388,802 1373.9,802.3 1376.8,793.4"/>
<polygon points="881,334 868.4,327.5 875.2,321.1"/>
<polygon points="1237,573.9 1223,575.6 1225,566.4"/>
<polygon points="1389.5,409.1 1375.4,410.5 1377.6,401.5"/>
<polygon points="322.5,1388 308.7,1391 309.9,1381.7"/>
<polygon points="1388,797 1374,795 1378.3,786.7"/>
<polygon points="1389.5,414.4 1375.7,417.3 1376.9,408"/>
<polygon points="322.5,1383.9 308.4,1385.2 310.7,1376.2"/>
<polygon points="927.7,871.3 922.3,858.3 931.6,857.8"/>
<polygon points="1090.9,1378 1082.7,1366.4 1091.7,1363.9"/>
<polygon points="1176.9,572.7 1171.4,559.7 1180.7,559.1"/>
<polygon points="1514.7,722 1505.2,711.6 1513.8,707.9"/>
<polygon points="1347.2,483.3 1355.7,472 1360.9,479.8"/>
<polygon points="1439.8,490.7 1435.2,477.3 1444.5,477.3"/>
<polygon points="1518.6,490.7 1505.5,485.4 1511.7,478.3"/>
<polygon points="1592,490.7 1577.9,489.4 1581.8,480.9"/>
<polygon points="1718,490.7 1703.9,492 1706.2,482.9"/>
<polygon points="1899.4,490.7 1885.3,491.1 1888.1,482.2"/>
<polygon points="2011.3,490.7 1997.2,492.4 1999.2,483.2"/>
<polygon points="2038.1,1303.3 2042.6,1289.9 2050,1295.7"/>
<polygon points="1950.9,1378 1962.8,1370.3 1965,1379.4"/>
<polygon points="1798.5,1382.4 1810.5,1374.9 1812.5,1384.1"/>
<polygon points="1101.3,1378 1103.2,1364 1111.5,1368.2"/>
<polygon points="1199.9,572.7 1209,561.9 1213.8,569.9"/>
<polygon points="1519.4,722 1513.6,709.1 1522.9,708.3"/>
<polygon points="1659.4,1303.3 1670,1294 1673.5,1302.7"/>
<polygon points="2030.2,1303.3 2027.9,1289.4 2037.1,1291"/>
<polygon points="2148.5,1461 2160.6,1453.6 2162.5,1462.8"/>
<polygon points="350.5,722 362.9,715.2 364.4,724.4"/>
<polygon points="1398.1,796.7 1384.7,792.2 1390.4,784.8"/>
<polygon points="1290.4,647.3 1276.5,645 1281,636.8"/>
<polygon points="954.4,871.3 962,859.4 967.8,866.7"/>
<polygon points="1313.5,647.3 1309,633.9 1318.4,634.1"/>
<polygon points="1413.3,796.7 1408.4,783.4 1417.7,783.2"/>
<polygon points="1639,1132 1648.2,1121.3 1652.9,1129.3"/>
<polygon points="345.4,1378 332.6,1372.2 339,1365.4"/>
<polygon points="1404.8,796.7 1393.5,788.2 1401.2,783"/>
<polygon points="1484.9,722 1470.8,721.9 1474,713.1"/>
<polygon points="322.5,1378 308.4,1377.3 312,1368.6"/>
<polygon points="753.5,1382.2 739.4,1383.5 741.7,1374.5"/>
<polygon points="353.3,1378 343.2,1368.1 351.6,1364"/>
<polygon points="1431.4,796.7 1439.6,785.2 1445,792.9"/>
<polygon points="1620.4,1132 1621.7,1117.9 1630.2,1121.8"/>
<polygon points="360,1378 355.4,1364.6 364.8,1364.7"/>
<polygon points="1009.5,877.7 1021.9,870.9 1023.4,880.1"/>
<polygon points="1149.6,968 1156.9,955.9 1162.9,963.1"/>
<polygon points="1348.8,878.7 1354.4,865.7 1361.3,872.1"/>
<polygon points="1371.9,1124.7 1369,1110.8 1378.2,1112.1"/>
<polygon points="1378.5,1221.8 1388.1,1211.4 1392.5,1219.7"/>
<polygon points="1520.5,1214 1515.5,1200.8 1524.9,1200.6"/>
<polygon points="1611.4,1132 1603.7,1120.2 1612.8,1117.9"/>
<polygon points="1633.9,1303.3 1636.4,1289.4 1644.5,1294"/>
<polygon points="1650.7,1378 1659.7,1367.1 1664.5,1375"/>
<polygon points="1888.8,1378 1882.2,1365.5 1891.5,1364.1"/>
<polygon points="2124.5,1452.7 2125.9,1438.6 2134.4,1442.5"/>
<polygon points="363.3,1378 362.2,1363.9 371.2,1366.3"/>
<polygon points="814,1138.6 800.3,1141.9 801.2,1132.6"/>
<polygon points="1062,1385.1 1048.1,1387.3 1049.7,1378.1"/>
<polygon points="850.7,960.7 857.6,948.3 863.8,955.4"/>
<polygon points="926.7,1050 922.2,1036.6 931.6,1036.7"/>
<polygon points="1590.5,1387.6 1576.8,1391 1577.7,1381.7"/>
<polygon points="1321,1124.7 1306.9,1123.7 1310.6,1115.1"/>
<polygon points="1105.6,968 1091.5,967 1095.3,958.4"/>
<polygon points="663.5,971.2 675.9,964.4 677.4,973.6"/>
<polygon points="1318.1,1303.3 1308.2,1293.2 1316.7,1289.3"/>
<polygon points="1366.7,1124.7 1360.4,1112 1369.7,1110.9"/>
<polygon points="602.1,1050 598.3,1036.4 607.6,1037"/>
<polygon points="380.7,1378 389.5,1367 394.4,1374.9"/>
<polygon points="1063.5,1378 1049.4,1376.9 1053.2,1368.4"/>
<polygon points="911.3,1050 898.1,1045.1 904,1037.9"/>
<polygon points="923.3,1132 919.3,1118.5 928.6,1118.9"/>
<polygon points="1307.5,1303.3 1294,1299.2 1299.5,1291.7"/>
<polygon points="1309,1133.5 1295,1135.7 1296.7,1126.5"/>
<polygon points="1487,1214 1473.2,1211.3 1477.9,1203.2"/>
<polygon points="1378.5,1222.5 1389.7,1213.9 1392.6,1222.8"/>
<polygon points="397.5,1385.8 410.1,1379.4 411.3,1388.7"/>
<polygon points="1541.9,1214 1548.3,1201.4 1554.8,1208.2"/>
<polygon points="1625.6,1303.3 1620,1290.4 1629.3,1289.7"/>
<polygon points="1758.4,1378 1747.5,1369.1 1755.4,1364.2"/>
<polygon points="1876.3,1378 1863.2,1372.6 1869.4,1365.6"/>
<polygon points="397.5,1388.8 410.6,1383.4 411.1,1392.7"/>
<polygon points="1355.1,1303.3 1365.6,1293.9 1369.2,1302.5"/>
<polygon points="1459.1,1303.3 1464.5,1290.3 1471.4,1296.5"/>
<polygon points="1655.2,1452.7 1641.1,1451.8 1644.7,1443.2"/>
<polygon points="1610.2,1303.3 1596.8,1298.8 1602.5,1291.5"/>
<polygon points="1862.8,1378 1848.8,1376.6 1852.7,1368.1"/>
<polygon points="1977,1307.8 1963.1,1310.3 1964.6,1301"/>
<polygon points="397.5,1389.3 410.6,1384.1 411,1393.4"/>
<polygon points="1127.5,1380 1138.7,1371.5 1141.6,1380.4"/>
<polygon points="1734,1385.2 1720.1,1387.6 1721.6,1378.4"/>
<polygon points="397.5,1389.3 410.6,1384.1 411,1393.5"/>
<polygon points="822.5,1387.6 835.4,1381.8 836.2,1391.1"/>
<polygon points="1127.5,1386.1 1140.1,1379.6 1141.3,1388.8"/>
<polygon points="1625.5,1378 1621,1364.6 1630.4,1364.8"/>
<polygon points="2088,1463.1 2074.3,1466.6 2075.1,1457.3"/>
<polygon points="1742.5,1378 1728.6,1375.8 1733,1367.6"/>
<polygon points="1845.7,1378 1831.6,1378.9 1834.2,1369.9"/>
<polygon points="1127.5,1388 1140.4,1382.3 1141.2,1391.6"/>
<polygon points="2110.6,1452.7 2099.7,1443.7 2107.7,1438.8"/>
<polygon points="1735.4,1452.7 1746.1,1443.4 1749.5,1452.1"/>
<polygon points="2088,1455.4 2073.9,1455.7 2076.8,1446.8"/>
</g>
<g stroke-width="1.33">
<rect x="1019" y="6" width="194" height="40" fill="#bfbfbf" stroke="#000000"/>
<rect x="1058.5" y="95.3" width="114.5" height="25.3" fill="#ffffff" stroke="#000000"/>
<rect x="1967" y="170" width="140" height="40" fill="#ffffff" stroke="#000000"/>
<rect x="2233" y="177.3" width="171.5" height="25.3" fill="#ffffff" stroke="#000000"/>
<rect x="765" y="259.3" width="114.5" height="25.3" fill="#ffffff" stroke="#000000"/>
<rect x="1806" y="259.3" width="107" height="25.3" fill="#ffffff" stroke="#bfbfbf"/>
<rect x="1987.5" y="259.3" width="98.5" height="25.3" fill="#ffffff" stroke="#bfbfbf"/>
<rect x="2161.5" y="259.3" width="119" height="25.3" fill="#ffffff" stroke="#ff0000"/>
<rect x="787.5" y="334" width="211" height="25.3" fill="#ffffff" stroke="#000000"/>
<rect x="1921" y="334" width="125" height="25.3" fill="#ffffff" stroke="#bfbfbf"/>
<rect x="2190" y="334" width="68" height="25.3" fill="#ffffff" stroke="#bfbfbf"/>
<rect x="2285.5" y="334" width="96" height="25.3" fill="#ffffff" stroke="#bfbfbf"/>
<rect x="1389.5" y="408.7" width="101" height="25.3" fill="#ffffff" stroke="#000000"/>
<rect x="1254.5" y="483.3" width="125.5" height="40" fill="#ffffff" stroke="#000000"/>
<rect x="1403.5" y="490.7" width="72.5" height="25.3" fill="#ffffff" stroke="#bfbfbf"/>
<rect x="1499.5" y="490.7" width="67" height="25.3" fill="#ffffff" stroke="#bfbfbf"/>
<rect x="1590.5" y="490.7" width="58.5" height="25.3" fill="#ffffff" stroke="#bfbfbf"/>
<rect x="1672.5" y="490.7" width="192.5" height="25.3" fill="#ffffff" stroke="#ff0000"/>
<rect x="1889.5" y="490.7" width="86.5" height="25.3" fill="#ffffff" stroke="#000000"/>
<rect x="2000.5" y="490.7" width="128.5" height="25.3" fill="#ffffff" stroke="#bfbfbf"/>
<rect x="1144.5" y="572.7" width="68" height="25.3" fill="#ffffff" stroke="#ff0000"/>
<rect x="1237" y="572.7" width="155" height="25.3" fill="#ffffff" stroke="#000000"/>
<rect x="1253.5" y="647.3" width="119.5" height="25.3" fill="#ffffff" stroke="#ff0000"/>
<rect x="195" y="722" width="157.5" height="25.3" fill="#ffffff" stroke="#ff0000"/>
<rect x="1448" y="722" width="144" height="25.3" fill="#ffffff" stroke="#000000"/>
<rect x="1388" y="796.7" width="50.5" height="25.3" fill="#ffffff" stroke="#000000"/>
<rect x="849" y="871.3" width="160.5" height="40" fill="#ffffff" stroke="#000000"/>
<rect x="1295.5" y="878.7" width="83" height="25.3" fill="#ffffff" stroke="#000000"/>
<rect x="549.5" y="968" width="114" height="25.3" fill="#ffffff" stroke="#000000"/>
<rect x="738.5" y="960.7" width="179" height="40" fill="#ffffff" stroke="#ff0000"/>
<rect x="1093.5" y="968" width="82.5" height="25.3" fill="#ffffff" stroke="#bfbfbf"/>
<rect x="556" y="1050" width="90.5" height="25.3" fill="#ffffff" stroke="#bfbfbf"/>
<rect x="871.5" y="1050" width="110" height="25.3" fill="#ffffff" stroke="#000000"/>
<rect x="814" y="1132" width="217.5" height="25.3" fill="#ffffff" stroke="#ff0000"/>
<rect x="1309" y="1124.7" width="120.5" height="40" fill="#ffffff" stroke="#ff0000"/>
<rect x="1555" y="1132" width="119" height="25.3" fill="#ffffff" stroke="#ff0000"/>
<rect x="1309" y="1221.3" width="69.5" height="25.3" fill="#ffffff" stroke="#bfbfbf"/>
<rect x="1455" y="1214" width="132" height="40" fill="#ffffff" stroke="#000000"/>
<rect x="1258.5" y="1303.3" width="132.5" height="25.3" fill="#ffffff" stroke="#ff0000"/>
<rect x="1415.5" y="1303.3" width="64.5" height="25.3" fill="#ffffff" stroke="#bfbfbf"/>
<rect x="1554.5" y="1303.3" width="144" height="25.3" fill="#ffffff" stroke="#ff0000"/>
<rect x="1977" y="1303.3" width="101.5" height="25.3" fill="#ffffff" stroke="#ff0000"/>
<rect x="322.5" y="1378" width="75" height="25.3" fill="#ffffff" stroke="#bfbfbf"/>
<rect x="753.5" y="1378" width="69" height="25.3" fill="#ffffff" stroke="#bfbfbf"/>
<rect x="1062" y="1378" width="65.5" height="25.3" fill="#ffffff" stroke="#bfbfbf"/>
<rect x="1590.5" y="1378" width="69.5" height="25.3" fill="#ffffff" stroke="#bfbfbf"/>
<rect x="1734" y="1378" width="64.5" height="25.3" fill="#ffffff" stroke="#bfbfbf"/>
<rect x="1823" y="1378" width="135" height="25.3" fill="#ffffff" stroke="#ff0000"/>
<rect x="1654.5" y="1452.7" width="98.5" height="25.3" fill="#ffffff" stroke="#ff0000"/>
<rect x="2088" y="1452.7" width="60.5" height="25.3" fill="#ffffff" stroke="#bfbfbf"/>
</g>
<g font-family="'Liberation Sans', Arial, Helvetica, sans-serif" font-size="13.05" fill="#000000" text-anchor="middle" style="filter:grayscale(1)">
<text x="1029.7" y="21.7" text-anchor="start">src/tool/hpcrun/sample</text><text x="1029.7" y="36.3" text-anchor="start">-sources/perf/event_custom.c</text>
<text x="1115.8" y="111">event_custom.h</text>
<text x="2037" y="185.7">sample-sources/perf</text><text x="2037" y="200.3">/perf-util.h</text>
<text x="2318.8" y="193">sample-sources/display.h</text>
<text x="822.2" y="275">sample_event.h</text>
<text x="1859.5" y="275">linux/version.h</text>
<text x="2036.8" y="275">sys/syscall.h</text>
<text x="2221" y="275">perf_constants.h</text>
<text x="893" y="349.7">trampoline/common/trampoline.h</text>
<text x="1983.5" y="349.7">linux/perf_event.h</text>
<text x="2224" y="349.7">unistd.h</text>
<text x="2333.5" y="349.7">linux/types.h</text>
<text x="1440" y="424.3">thread_data.h</text>
<text x="1317.2" y="499">core_profile_trace</text><text x="1317.2" y="513.7">_data.h</text>
<text x="1439.8" y="506.3">setjmp.h</text>
<text x="1533" y="506.3">signal.h</text>
<text x="1619.8" y="506.3">time.h</text>
<text x="1768.8" y="506.3">sample_sources_registered.h</text>
<text x="1932.8" y="506.3">newmem.h</text>
<text x="2064.8" y="506.3">lush/lush-pthread.i</text>
<text x="1178.5" y="588.3">epoch.h</text>
<text x="1314.5" y="588.3">cct_insert_backtrace.h</text>
<text x="1313.2" y="663">cct/cct_bundle.h</text>
<text x="273.8" y="737.7">messages/messages.h</text>
<text x="1520" y="737.7">hpcrun/cct2metrics.h</text>
<text x="1413.2" y="812.3">cct.h</text>
<text x="929.2" y="887">hpcrun/unwind/common</text><text x="929.2" y="901.7">/backtrace.h</text>
<text x="1337" y="894.3">cct_addr.h</text>
<text x="606.5" y="983.7">include/queue.h</text>
<text x="828" y="976.3">unwind/common/backtrace</text><text x="828" y="991">_info.h</text>
<text x="1134.8" y="983.7">ucontext.h</text>
<text x="601.2" y="1065.7">sys/cdefs.h</text>
<text x="926.5" y="1065.7">hpcrun/frame.h</text>
<text x="922.8" y="1147.7">unwind/common/unw-datatypes.h</text>
<text x="1369.2" y="1140.3">hpcrun/utilities/ip</text><text x="1369.2" y="1155">-normalized.h</text>
<text x="1614.5" y="1147.7">hpcrun/metrics.h</text>
<text x="1343.8" y="1237">assert.h</text>
<text x="1521" y="1229.7">lib/prof-lean/hpcrun</text><text x="1521" y="1244.3">-fmt.h</text>
<text x="1324.8" y="1319">lush/lush-support.h</text>
<text x="1447.8" y="1319">limits.h</text>
<text x="1626.5" y="1319">lib/prof-lean/hpcfmt.h</text>
<text x="2027.8" y="1319">hpcio-buffer.h</text>
<text x="360" y="1393.7">stdbool.h</text>
<text x="788" y="1393.7">stdarg.h</text>
<text x="1094.8" y="1393.7">stdint.h</text>
<text x="1625.2" y="1393.7">stddef.h</text>
<text x="1766.2" y="1393.7">stdlib.h</text>
<text x="1890.5" y="1393.7">lib/prof-lean/hpcio.h</text>
<text x="1703.8" y="1468.3">include/uint.h</text>
<text x="2118.2" y="1468.3">stdio.h</text>
</g>
</svg>
</body></html>
